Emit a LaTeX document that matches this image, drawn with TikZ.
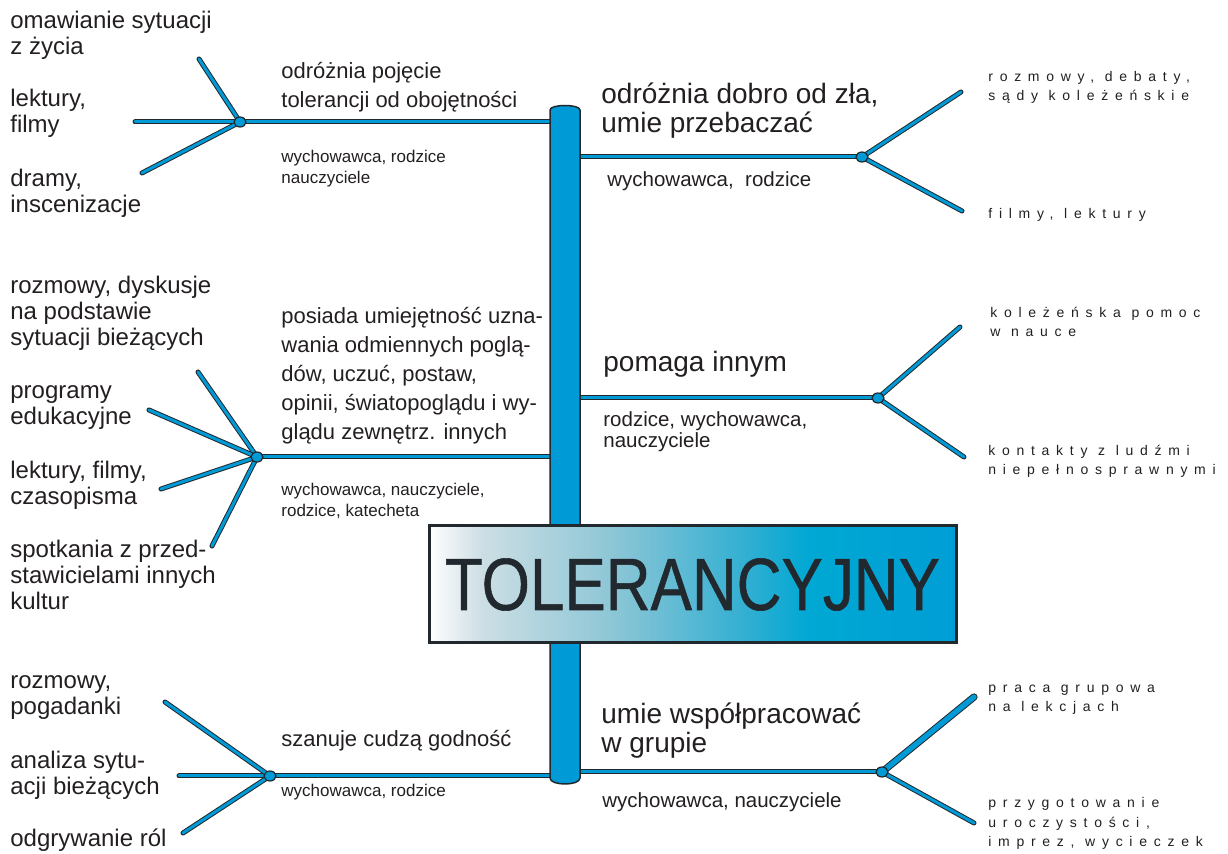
\documentclass[tikz,border=0pt]{standalone}
\usepackage{fontspec}
\setmainfont{Liberation Sans}
\usetikzlibrary{shapes.geometric}
\definecolor{bl}{RGB}{0,155,214}
\definecolor{dk}{RGB}{33,40,46}
\definecolor{tx}{RGB}{35,31,32}
\definecolor{ca}{RGB}{205,222,228}
\definecolor{cb}{RGB}{140,198,214}
\definecolor{cc}{RGB}{50,175,210}
\definecolor{cd}{RGB}{0,168,211}
\definecolor{ce}{RGB}{0,158,214}
\pgfdeclarehorizontalshading{tolsh}{100bp}{color(0bp)=(white); color(25bp)=(white); color(30bp)=(ca); color(42.5bp)=(cb); color(55bp)=(cc); color(61bp)=(cd); color(75bp)=(ce); color(100bp)=(ce)}
\begin{document}
\begin{tikzpicture}[x=0.5pt,y=-0.5pt,
  br/.style={draw=dk, line width=0.5pt, double=bl, double distance=1.5pt, line cap=round},
  brthick/.style={draw=dk, line width=0.5pt, double=bl, double distance=2.6pt, line cap=round},
  dot/.style={ellipse, draw=dk, line width=0.6pt, fill=bl, minimum width=6pt, minimum height=5pt, inner sep=0},
  txt/.style={anchor=base west, inner sep=0, align=left, text=tx},
  lab/.style={txt, font=\fontsize{12pt}{13pt}\selectfont},
  topl/.style={txt, font=\fontsize{11pt}{14.6pt}\selectfont},
  smallt/.style={txt, font=\fontsize{8.5pt}{10.75pt}\selectfont},
  topr/.style={txt, font=\fontsize{14pt}{14.5pt}\selectfont},
  subr/.style={txt, font=\fontsize{10.25pt}{10.5pt}\selectfont},
  spc/.style={txt, font=\fontsize{7pt}{9.8pt}\selectfont\addfontfeatures{LetterSpace=48}},
]
\useasboundingbox (0,0) rectangle (1228,854);

% junction coordinates
\coordinate (d1) at (240,122);
\coordinate (d2) at (862,157);
\coordinate (d3) at (257,457);
\coordinate (d4) at (878,398);
\coordinate (d5) at (270,776);
\coordinate (d6) at (882,772);
% spine attachment points
\coordinate (s1) at (550,122);
\coordinate (s2) at (580,157);
\coordinate (s3) at (550,457);
\coordinate (s4) at (580,398);
\coordinate (s5) at (550,776);
\coordinate (s6) at (580,772);
% free ends
\coordinate (e1h) at (135,122);
\coordinate (e1a) at (199,59);
\coordinate (e1b) at (142,173);
\coordinate (e2a) at (961,92);
\coordinate (e2b) at (962,211);
\coordinate (e3a) at (198,372);
\coordinate (e3b) at (149,410);
\coordinate (e3c) at (161,489);
\coordinate (e3d) at (212,546);
\coordinate (e4a) at (960,327);
\coordinate (e4b) at (964,457);
\coordinate (e5h) at (179,776);
\coordinate (e5a) at (165,702);
\coordinate (e5b) at (183,833);
\coordinate (e6a) at (974,697);
\coordinate (e6b) at (974,823);

% branches
\draw[br] (e1h) -- (s1);
\draw[br] (d1) -- (e1a);
\draw[br] (d1) -- (e1b);
\draw[br] (s2) -- (d2);
\draw[br] (d2) -- (e2a);
\draw[br] (d2) -- (e2b);
\draw[br] (d3) -- (s3);
\draw[br] (d3) -- (e3a);
\draw[br] (d3) -- (e3b);
\draw[br] (d3) -- (e3c);
\draw[br] (d3) -- (e3d);
\draw[br] (s4) -- (d4);
\draw[br] (d4) -- (e4a);
\draw[br] (d4) -- (e4b);
\draw[br] (e5h) -- (s5);
\draw[br] (d5) -- (e5a);
\draw[br] (d5) -- (e5b);
\draw[br] (s6) -- (d6);
\draw[brthick] (d6) -- (e6a);
\draw[br] (d6) -- (e6b);

% spine
\draw[draw=dk, line width=0.75pt, fill=bl]
  (550,778) .. controls (550,786) and (580,786) .. (580,778)
  -- (580,110) .. controls (580,104) and (550,104) .. (550,110) -- cycle;

% junction dots
\foreach \d in {d1,d2,d3,d4,d5,d6} \node[dot] (n\d) at (\d) {};

% central box
\node[shading=tolsh, draw=dk, line width=1.5pt, minimum width=263.5pt, minimum height=58.5pt, inner sep=0,
      text=dk, font=\fontsize{37pt}{40pt}\selectfont\addfontfeatures{FakeBold=0.8}] (main) at (692.5,584.5)
  {\scalebox{0.838}[1]{TOLERANCYJNY}};

% left labels (positions are baselines of the last line)
\node[lab] (l1) at (10,55) {omawianie sytuacji\\z życia};
\node[lab] (l2) at (10,133) {lektury,\\filmy};
\node[lab] (l3) at (10,213) {dramy,\\inscenizacje};
\node[lab] (l4) at (10,346) {rozmowy, dyskusje\\na podstawie\\sytuacji bieżących};
\node[lab] (l5) at (10,425) {programy\\edukacyjne};
\node[lab] (l6) at (10,505) {lektury, filmy,\\czasopisma};
\node[lab] (l7) at (10,610) {spotkania z przed-\\stawicielami innych\\kultur};
\node[lab] (l8) at (10,715) {rozmowy,\\pogadanki};
\node[lab] (l9) at (10,795) {analiza sytu-\\acji bieżących};
\node[lab] (l10) at (10,847) {odgrywanie ról};

% left topics
\node[topl] (t1) at (281,108) {odróżnia pojęcie\\tolerancji od obojętności};
\node[topl] (t3) at (281,440) {posiada umiejętność uzna-\\wania odmiennych poglą-\\dów, uczuć, postaw,\\opinii, światopoglądu i wy-\\glądu zewnętrz. innych};
\node[topl] (t5) at (281,747) {szanuje cudzą godność};
\node[smallt] (w1) at (281,184) {wychowawca, rodzice\\nauczyciele};
\node[smallt] (w3) at (281,517) {wychowawca, nauczyciele,\\rodzice, katecheta};
\node[smallt] (w5) at (281,797) {wychowawca, rodzice};

% right topics
\node[topr] (t2) at (601,133) {odróżnia dobro od zła,\\umie przebaczać};
\node[topr] (t4) at (603,372) {pomaga innym};
\node[topr] (t6) at (601,753) {umie współpracować\\w grupie};
\node[subr] (w2) at (607,187) {wychowawca,~\ rodzice};
\node[subr] (w4) at (603,448) {rodzice, wychowawca,\\nauczyciele};
\node[subr] (w6) at (602,808) {wychowawca, nauczyciele};

% right spaced labels
\node[spc] (r1) at (988,101) {rozmowy, debaty,\\sądy koleżeńskie};
\node[spc] (r2) at (988,219) {filmy, lektury};
\node[spc] (r3) at (990,337) {koleżeńska pomoc\\w nauce};
\node[spc] (r4) at (988,475) {kontakty z ludźmi\\niepełnosprawnymi};
\node[spc] (r5) at (988,712) {praca grupowa\\na lekcjach};
\node[spc] (r6) at (988,847) {przygotowanie\\uroczystości,\\imprez, wycieczek};
\end{tikzpicture}
\end{document}
